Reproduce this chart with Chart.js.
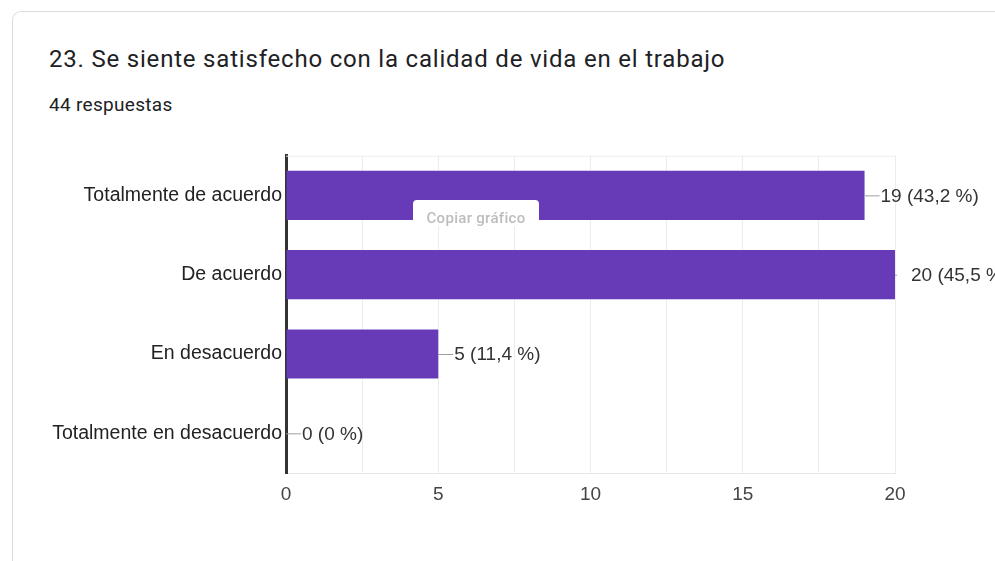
<!DOCTYPE html>
<html>
<head>
<meta charset="utf-8">
<script src="https://cdn.jsdelivr.net/npm/chart.js@4.4.1/dist/chart.umd.min.js"></script>
<style>
  html, body { margin: 0; padding: 0; background: #fff; overflow: hidden; }
  body { width: 995px; height: 561px; position: relative; }
  .card {
    position: absolute; left: 12px; top: 11px; width: 1100px; height: 700px;
    border: 1px solid #dadce0; border-radius: 9px; box-sizing: border-box;
  }
  .title {
    position: absolute; left: 49px; top: 45px; margin: 0;
    font: 400 24px Roboto, 'Noto Sans', sans-serif; letter-spacing: 0.8px;
    color: #202124; white-space: nowrap; line-height: 28px;
  }
  .count {
    position: absolute; left: 49px; top: 93px; line-height: 22px;
    font: 400 19px Roboto, 'Noto Sans', sans-serif; letter-spacing: 0.3px; color: #202124;
  }
  .plot { position: absolute; left: 0; top: 140px; width: 1100px; height: 380px; }
  .copy {
    position: absolute; left: 413px; top: 200px; width: 126px; height: 26px;
    background: #fff; border-radius: 4px 4px 0 0;
    font: 500 15px Roboto, sans-serif; letter-spacing: 0.3px; color: #bdbdbd;
    text-align: center; line-height: 36px;
  }
</style>
</head>
<body>
<div class="card"></div>
<h1 class="title">23. Se siente satisfecho con la calidad de vida en el trabajo</h1>
<div class="count">44 respuestas</div>
<div class="plot"><canvas id="chart"></canvas></div>
<div class="copy">Copiar gráfico</div>
<script>
// answer options and how many of the 44 respondents picked each
const categories = ['Totalmente de acuerdo', 'De acuerdo', 'En desacuerdo', 'Totalmente en desacuerdo'];
const counts = [19, 20, 5, 0];
const totalAnswers = 44;
const xTicks = [0, 5, 10, 15, 20];

const BAR = '#673ab7';
const FONT_FAMILY = '"Liberation Sans", Arial, sans-serif';
const LABEL_FONT = `19px ${FONT_FAMILY}`;

const pctText = (n) => {
  const p = n / totalAnswers * 100;
  return p === 0 ? '0 %' : p.toFixed(1).replace('.', ',') + ' %';
};

// "19 (43,2 %)" after each bar, with a short grey leader line
const valueLabels = {
  id: 'valueLabels',
  afterDatasetsDraw(chart) {
    const { ctx, chartArea } = chart;
    const meta = chart.getDatasetMeta(0);
    meta.data.forEach((bar, i) => {
      const x = bar.x, y = bar.y;
      ctx.save();
      ctx.beginPath();
      ctx.rect(chartArea.left, chartArea.top, chartArea.right - chartArea.left + 2, chartArea.bottom - chartArea.top);
      ctx.clip();
      ctx.strokeStyle = '#9e9e9e';
      ctx.lineWidth = 1;
      ctx.beginPath();
      ctx.moveTo(x, y + 0.5);
      ctx.lineTo(x + 15, y + 0.5);
      ctx.stroke();
      ctx.restore();

      ctx.save();
      ctx.font = LABEL_FONT;
      ctx.fillStyle = '#333';
      ctx.textAlign = 'left';
      ctx.textBaseline = 'middle';
      ctx.fillText(`${counts[i]} (${pctText(counts[i])})`, x + 16, y + 1);
      ctx.restore();
    });
  }
};

// faint line along the top of the plot
const topRule = {
  id: 'topRule',
  beforeDatasetsDraw(chart) {
    const { ctx, chartArea } = chart;
    ctx.save();
    ctx.strokeStyle = '#ececec';
    ctx.lineWidth = 1;
    ctx.beginPath();
    ctx.moveTo(chartArea.left, chartArea.top + 0.5);
    ctx.lineTo(chartArea.right, chartArea.top + 0.5);
    ctx.stroke();
    ctx.restore();
  }
};

new Chart(document.getElementById('chart'), {
  type: 'bar',
  data: {
    labels: categories,
    datasets: [{
      data: counts,
      backgroundColor: BAR,
      borderWidth: 0,
      categoryPercentage: 1,
      barPercentage: 0.62,
    }]
  },
  options: {
    indexAxis: 'y',
    responsive: true,
    maintainAspectRatio: false,
    animation: false,
    layout: { padding: { top: 15, right: 205, bottom: 0, left: 0 } },
    plugins: { legend: { display: false }, tooltip: { enabled: false } },
    scales: {
      x: {
        min: xTicks[0],
        max: xTicks[xTicks.length - 1],
        afterBuildTicks(scale) {
          const t = [];
          for (let v = xTicks[0]; v <= xTicks[xTicks.length - 1]; v += 2.5) t.push({ value: v });
          scale.ticks = t;
        },
        afterFit(scale) { scale.height = 47; },
        grid: { color: '#ececec', lineWidth: 1, drawTicks: false },
        border: { color: '#e6e6e6', width: 1 },
        ticks: {
          padding: 10,
          maxRotation: 0,
          autoSkip: false,
          color: '#444',
          font: { family: FONT_FAMILY, size: 19 },
          callback: (v) => (xTicks.includes(v) ? String(v) : ''),
        },
      },
      y: {
        afterFit(scale) { scale.width = 286; },
        grid: { display: false, drawTicks: false },
        border: { color: '#333', width: 3 },
        ticks: {
          padding: 4,
          color: '#222',
          font: { family: FONT_FAMILY, size: 19.5 },
        },
      },
    },
  },
  plugins: [valueLabels, topRule],
});
</script>
</body>
</html>
